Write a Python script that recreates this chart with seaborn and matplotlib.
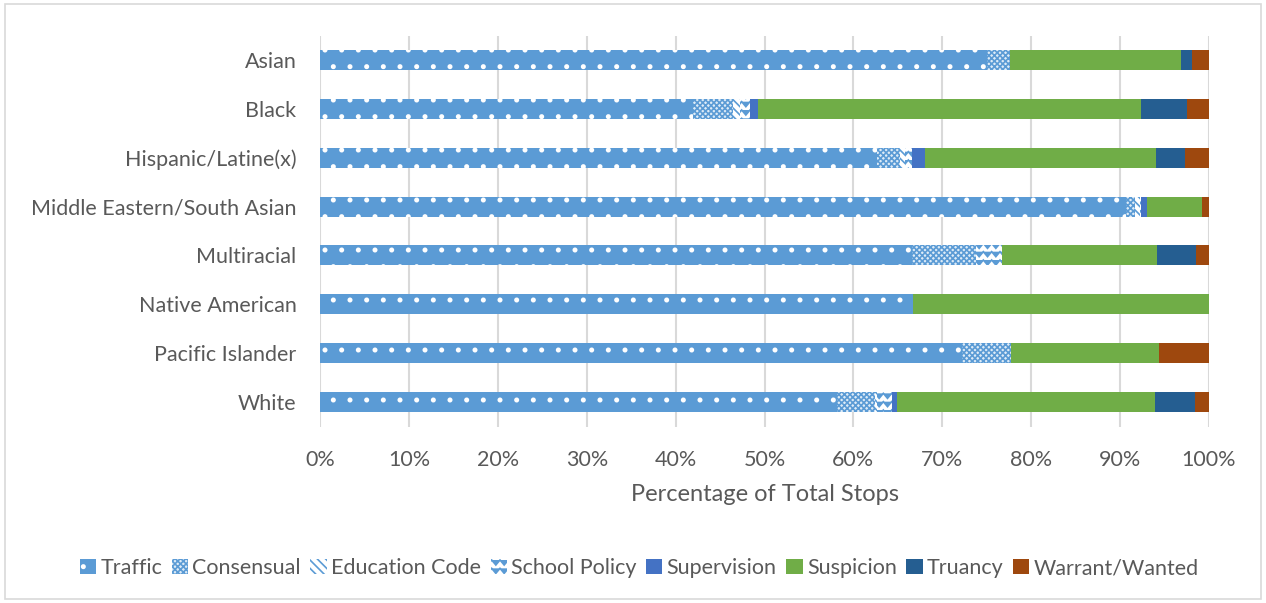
import matplotlib
matplotlib.use("Agg")
import matplotlib.pyplot as plt
import matplotlib.patches as mpatches
import matplotlib.hatch as mhatch
from matplotlib.path import Path
import seaborn as sns
import numpy as np
import pandas as pd

groups = ["Asian", "Black", "Hispanic/Latine(x)", "Middle Eastern/South Asian",
          "Multiracial", "Native American", "Pacific Islander", "White"]
categories = ["Traffic", "Consensual", "Education Code", "School Policy",
              "Supervision", "Suspicion", "Truancy", "Warrant/Wanted"]

traffic        = [75.0, 41.9, 62.6, 90.7, 66.6, 66.7, 72.2, 58.1]
consensual     = [2.6, 4.5, 2.6, 1.0, 7.2, 0.0, 5.5, 4.3]
education_code = [0.0, 0.8, 0.6, 0.5, 0.0, 0.0, 0.0, 0.3]
school_policy  = [0.0, 1.2, 0.8, 0.2, 2.9, 0.0, 0.0, 1.6]
supervision    = [0.0, 0.9, 1.4, 0.6, 0.0, 0.0, 0.0, 0.6]
suspicion      = [19.3, 43.1, 26.0, 6.2, 17.4, 33.3, 16.7, 29.0]
truancy        = [1.2, 5.1, 3.3, 0.0, 4.4, 0.0, 0.0, 4.5]
warrant        = [1.9, 2.5, 2.7, 0.8, 1.5, 0.0, 5.6, 1.6]

series = [traffic, consensual, education_code, school_policy,
          supervision, suspicion, truancy, warrant]

# ---- custom wave hatch (re-uses the 'O' character) ----
try:
    class WaveHatch(mhatch.HatchPatternBase):
        filled = False

        def __init__(self, hatch, density):
            self.num_lines = int(hatch.count("O") * density)
            self.npts = 2 * self.num_lines + 1
            self.num_vertices = self.num_lines * self.npts

        def set_vertices_and_codes(self, vertices, codes):
            steps = np.linspace(0, 1, self.npts)
            amp = 0.3 / max(self.num_lines, 1)
            k = 0
            for i in range(self.num_lines):
                y0 = (i + 0.5) / self.num_lines
                for j, x in enumerate(steps):
                    vertices[k] = (x, y0 + (amp if j % 2 == 0 else -amp))
                    codes[k] = Path.MOVETO if j == 0 else Path.LINETO
                    k += 1

    mhatch._hatch_types = [WaveHatch if t is mhatch.LargeCircles else t
                           for t in mhatch._hatch_types]
    mhatch.SmallCircles.size = 0.1
    WAVE = "OO"
except Exception:
    WAVE = "+"

blue = "#5B9BD5"
styles = {
    "Traffic":        dict(fc=blue, hatch=".", hc="white"),
    "Consensual":     dict(fc="#DDEBF7", hatch="xxxxxx", hc=blue),
    "Education Code": dict(fc="white", hatch="\\\\\\\\", hc=blue),
    "School Policy":  dict(fc="white", hatch=WAVE, hc=blue),
    "Supervision":    dict(fc="#4472C4", hatch=None, hc=None),
    "Suspicion":      dict(fc="#70AD47", hatch=None, hc=None),
    "Truancy":        dict(fc="#255E91", hatch=None, hc=None),
    "Warrant/Wanted": dict(fc="#9E480E", hatch=None, hc=None),
}

sns.set_style("white")
plt.rcParams["font.family"] = ["Lato", "DejaVu Sans"]
plt.rcParams["hatch.linewidth"] = 1.2

fig = plt.figure(figsize=(12.66, 6.03), dpi=100)
ax = fig.add_axes([0.2528, 0.2927, 0.7022, 0.6483])

cum = np.cumsum(np.array(series), axis=0)
for k in range(len(categories) - 1, -1, -1):
    cat = categories[k]
    st = styles[cat]
    df = pd.DataFrame({"group": groups, "value": cum[k]})
    sns.barplot(data=df, x="value", y="group", orient="h", ax=ax,
                color=st["fc"], width=0.41, saturation=1, linewidth=0,
                errorbar=None)
    for p in ax.containers[-1]:
        p.set_facecolor(st["fc"])
        if st["hatch"]:
            p.set_hatch(st["hatch"])
            p.set_edgecolor(st["hc"])
            p.set_linewidth(0)

ax.set_xlim(0, 100)
ax.set_ylim(7.5, -0.5)
ax.set_xticks(np.arange(0, 101, 10))
ax.set_xticklabels([f"{v}%" for v in range(0, 101, 10)])
ax.xaxis.grid(True, color="#D9D9D9", linewidth=1.5)
ax.set_axisbelow(True)
for s in ax.spines.values():
    s.set_visible(False)
ax.tick_params(axis="x", pad=17, labelsize=15.5, labelcolor="#595959", length=0)
ax.tick_params(axis="y", pad=17, labelsize=15.5, labelcolor="#595959", length=0)
ax.set_ylabel("")
ax.set_xlabel("Percentage of Total Stops", fontsize=17, color="#595959", labelpad=10)

handles = []
for cat in categories:
    st = styles[cat]
    h = mpatches.Patch(facecolor=st["fc"], hatch=st["hatch"] or "",
                       edgecolor=st["hc"] if st["hatch"] else st["fc"],
                       linewidth=0, label=cat)
    handles.append(h)
fig.legend(handles=handles, loc="center", bbox_to_anchor=(0.505, 0.058), ncol=8,
           frameon=False, fontsize=15.5, labelcolor="#595959",
           handlelength=0.75, handleheight=0.75, handletextpad=0.2,
           columnspacing=0.45)

border = mpatches.Rectangle((0.004, 0.006), 0.992, 0.988, transform=fig.transFigure,
                            fill=False, edgecolor="#D9D9D9", linewidth=1.2)
fig.add_artist(border)

fig.savefig("out.png", dpi=100, facecolor="white")
